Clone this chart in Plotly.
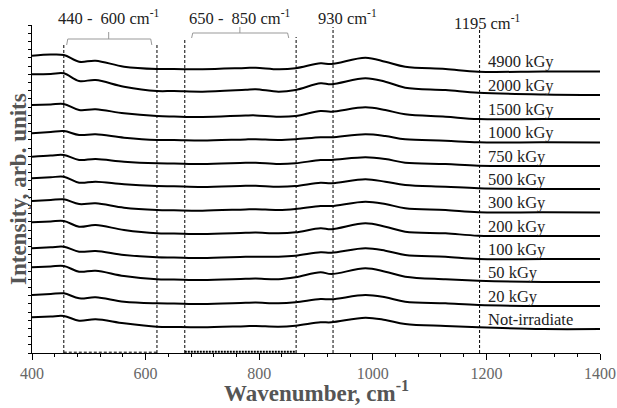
import plotly.graph_objects as go

# Wavenumber grid (cm-1) at which the spectra were read
WAVENUMBER = [400, 433, 456, 483, 512, 562, 620, 650, 700, 776, 794, 834,
              864, 908, 927, 987, 1022, 1057, 1128, 1186, 1300, 1400]

# Offset spectra (arb. units), top to bottom
S_4900 = [297.3, 298.5, 298.0, 291.3, 292.3, 286.3, 284.0, 284.0, 283.7, 285.0, 285.3, 283.7,
          284.7, 289.7, 289.0, 295.3, 291.3, 286.3, 284.0, 281.3, 281.5, 281.5]
S_2000 = [278.7, 279.0, 279.7, 272.0, 273.0, 266.3, 262.0, 262.0, 261.3, 263.3, 263.8, 261.3,
          263.0, 269.7, 268.7, 274.7, 271.3, 265.3, 263.0, 260.3, 258.5, 258.0]
S_1500 = [248.0, 248.5, 249.0, 243.0, 243.7, 239.7, 237.0, 236.5, 236.0, 237.5, 237.6, 236.3,
          237.0, 242.0, 241.3, 245.7, 243.0, 238.7, 236.3, 234.0, 234.0, 234.0]
S_1000 = [219.7, 221.0, 222.0, 218.0, 218.7, 215.3, 213.0, 213.0, 212.5, 213.6, 213.7, 213.0,
          213.7, 215.7, 215.7, 218.7, 217.0, 213.7, 212.3, 210.7, 210.7, 210.5]
S_750 = [196.3, 197.5, 198.0, 193.0, 194.0, 191.3, 189.7, 189.5, 189.0, 190.2, 190.3, 189.0,
         189.7, 193.0, 193.0, 195.7, 194.0, 190.3, 189.0, 187.3, 187.0, 187.0]
S_500 = [174.7, 175.7, 176.3, 170.3, 171.3, 168.7, 167.0, 166.7, 166.0, 167.2, 167.3, 166.3,
         167.0, 170.3, 169.7, 173.7, 171.3, 168.0, 166.3, 164.7, 164.0, 164.0]
S_300 = [152.0, 153.0, 153.7, 149.0, 149.7, 145.3, 143.0, 142.7, 142.3, 143.6, 143.8, 143.0,
         144.0, 147.0, 147.0, 151.3, 149.0, 144.7, 143.0, 140.7, 140.7, 140.5]
S_200 = [130.7, 131.5, 132.0, 126.3, 128.0, 123.0, 119.7, 119.5, 119.0, 120.2, 120.4, 119.7,
         120.7, 124.7, 123.7, 129.7, 126.3, 121.3, 119.7, 117.3, 117.0, 117.0]
S_100 = [104.7, 105.7, 106.3, 101.3, 102.0, 98.0, 95.7, 95.5, 95.0, 96.2, 96.3, 96.3,
         97.3, 100.7, 100.3, 104.7, 102.3, 98.0, 96.3, 94.0, 94.0, 94.0]
S_50 = [85.7, 86.5, 87.0, 81.3, 82.3, 77.0, 73.7, 73.5, 73.0, 74.2, 74.4, 73.7,
        75.7, 80.7, 79.0, 84.7, 81.3, 76.3, 73.7, 72.3, 71.0, 71.0]
S_20 = [58.0, 59.0, 59.7, 54.7, 55.7, 51.3, 49.7, 49.5, 49.0, 50.2, 50.4, 49.7,
        50.7, 54.0, 53.7, 58.0, 55.7, 51.3, 49.7, 48.0, 47.0, 47.0]
S_0 = [35.7, 36.5, 37.0, 32.3, 33.7, 29.7, 26.3, 26.0, 25.7, 26.8, 27.0, 26.3,
       27.3, 30.7, 30.7, 35.3, 33.0, 29.0, 27.0, 25.7, 24.0, 24.0]

SERIES = [S_4900, S_2000, S_1500, S_1000, S_750, S_500, S_300, S_200, S_100, S_50, S_20, S_0]
LABELS = ["4900 kGy", "2000 kGy", "1500 kGy", "1000 kGy", "750 kGy", "500 kGy",
          "300 kGy", "200 kGy", "100 kGy", "50 kGy", "20 kGy", "Not-irradiate"]

# Reference band lines (cm-1) and their top heights
BAND_LINES = [456, 620, 669, 865, 930, 1188]
BAND_TOPS = [308, 308, 315, 316, 326, 323]
BAND_TEXT = ["440 -  600 cm<sup>-1</sup>", "650 -  850 cm<sup>-1</sup>",
             "930 cm<sup>-1</sup>", "1195 cm<sup>-1</sup>"]
BAND_TEXT_X = [535, 766, 955, 1202]
BAND_TEXT_SHIFT = [8, 8, 8, 3]

SERIF = "Liberation Serif, Times New Roman, serif"

fig = go.Figure()
for ys, lab in zip(SERIES, LABELS):
    fig.add_trace(go.Scatter(x=WAVENUMBER, y=ys, mode="lines", name=lab,
                             line=dict(color="black", width=2, shape="spline", smoothing=1.0),
                             showlegend=False, hoverinfo="skip"))
    fig.add_annotation(x=1200, y=ys[-1] + 10, text=lab, showarrow=False,
                       xanchor="left", yanchor="middle",
                       font=dict(family=SERIF, size=16.5, color="#222"))

for xv, top in zip(BAND_LINES, BAND_TOPS):
    fig.add_shape(type="line", x0=xv, x1=xv, y0=0, y1=top,
                  line=dict(color="black", width=1, dash="3px,2px"))

# dashed bottom edges of the bands
fig.add_shape(type="line", x0=456, x1=620, y0=0.8, y1=0.8,
              line=dict(color="black", width=1, dash="3px,2px"))
fig.add_shape(type="line", x0=669, x1=865, y0=1.2, y1=1.2,
              line=dict(color="black", width=2, dash="2px,1px"))

# brackets
fig.add_shape(type="path", path="M 461,308 L 463,314 L 609,314 L 611,308",
              line=dict(color="#999", width=1))
fig.add_shape(type="line", x0=535, x1=535, y0=314, y1=321, line=dict(color="#999", width=1))
fig.add_shape(type="path", path="M 681,315 L 683,320 L 850,320 L 852,315",
              line=dict(color="#999", width=1))
fig.add_shape(type="line", x0=766, x1=766, y0=320, y1=326, line=dict(color="#999", width=1))

for t, xv, ys_ in zip(BAND_TEXT, BAND_TEXT_X, BAND_TEXT_SHIFT):
    fig.add_annotation(x=xv, xref="x", y=1, yref="paper", yshift=ys_, text=t, showarrow=False,
                       xanchor="center", yanchor="middle",
                       font=dict(family=SERIF, size=16.5, color="#222"))

# axis titles
fig.add_annotation(x=0.5, xref="paper", y=0, yref="paper", yshift=-38,
                   text="<b>Wavenumber, cm<sup>-1</sup></b>", showarrow=False,
                   xanchor="center", yanchor="middle",
                   font=dict(family=SERIF, size=23, color="#555"))
fig.add_annotation(x=0, xref="paper", y=0.5, yref="paper", xshift=-14,
                   text="<b>Intensity, arb. units</b>", showarrow=False, textangle=-90,
                   xanchor="center", yanchor="middle",
                   font=dict(family=SERIF, size=23, color="#555"))

fig.update_layout(
    width=617, height=408, autosize=False,
    margin=dict(l=32, r=1, t=25, b=55),
    plot_bgcolor="white", paper_bgcolor="white",
    font=dict(family=SERIF),
)
fig.update_xaxes(range=[400, 1400], tick0=400, dtick=200, showgrid=False, zeroline=False,
                 showline=True, linecolor="black", linewidth=1,
                 ticks="outside", ticklen=6, tickcolor="black", ticklabeloverflow="allow",
                 minor=dict(dtick=40, ticks="outside", ticklen=3, tickcolor="black", showgrid=False),
                 tickfont=dict(family=SERIF, size=16, color="#666"))
fig.update_yaxes(range=[0, 328], tick0=0, dtick=8.2, showgrid=False, zeroline=False,
                 showline=True, linecolor="black", linewidth=1,
                 ticks="outside", ticklen=3, tickcolor="black", showticklabels=False)

POST = ("document.documentElement.style.overflow='hidden';"
        "document.body.style.margin='0';document.body.style.overflow='hidden';")
fig.write_html("out.html", config={"displayModeBar": False, "responsive": False},
               post_script=POST)
